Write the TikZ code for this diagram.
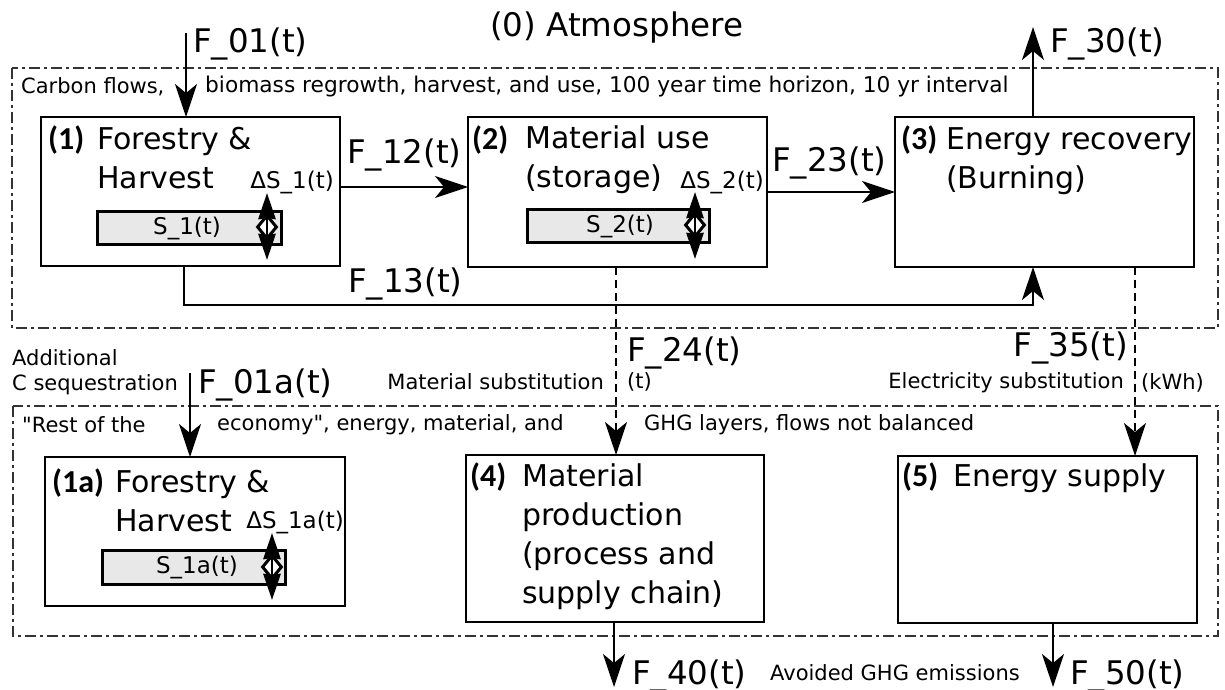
\documentclass[tikz,border=0pt]{standalone}
\usepackage{fontspec}
\setmainfont{DejaVu Sans}
\newfontfamily\qfont{DejaVu Sans}
\newfontfamily\numfont{Carlito}
\usetikzlibrary{arrows.meta,shapes.geometric}
\begin{document}
\begin{tikzpicture}[x=1pt,y=-1pt,
  box/.style={draw, line width=1.8pt, anchor=north west, inner sep=0, outer sep=0},
  frame/.style={draw=black!80, line width=1.3pt, dash pattern=on 11pt off 4pt on 3pt off 4pt},
  flow/.style={line width=1.8pt, -{Stealth[length=33pt,width=22pt,inset=9pt]}},
  dflow/.style={flow, dash pattern=on 8pt off 5pt},
  bigt/.style={font=\fontsize{30}{39}\selectfont, inner sep=0, anchor=base west},
  flt/.style={font=\fontsize{32.5}{39}\selectfont, inner sep=0, anchor=base west},
  smallt/.style={font=\qfont\fontsize{21}{26}\selectfont, inner sep=0},
  midt/.style={font=\fontsize{23}{28}\selectfont, inner sep=0},
  numt/.style={font=\numfont\bfseries\fontsize{32}{38}\selectfont, inner sep=0, anchor=base west},
  stock/.style={draw, line width=3pt, fill=black!9, inner sep=0, outer sep=0, anchor=north west},
  dstock/.style={line width=3.5pt, {Stealth[length=26pt,width=17pt,inset=1pt]}-{Stealth[length=26pt,width=17pt,inset=1pt]}},
  dia/.style={diamond, draw, line width=3pt, fill=white, inner sep=0, minimum width=20pt, minimum height=24pt}
]
\useasboundingbox (0,0) rectangle (1225,690);

% system frames
\draw[frame] (12,68) rectangle (1218,328);
\draw[frame] (13,406) rectangle (1218,636);

% title
\node[flt] (atm) at (490,37) {(0) Atmosphere};

% frame captions
\node[smallt, anchor=west] (cap1a) at (21,87) {Carbon flows,};
\node[smallt, anchor=west, font=\qfont\fontsize{21.7}{26}\selectfont] (cap1b) at (205,87) {biomass regrowth, harvest, and use, 100 year time horizon, 10 yr interval};
\node[smallt, anchor=west] (cap2a) at (22,425) {"Rest of the};
\node[smallt, anchor=west] (cap2b) at (217,425) {economy", energy, material, and};
\node[smallt, anchor=west] (cap2c) at (644,425) {GHG layers, flows not balanced};

% boxes
\node[box, minimum width=299pt, minimum height=149pt] (b1) at (41,117) {};
\node[box, minimum width=299pt, minimum height=150pt] (b2) at (468,117) {};
\node[box, minimum width=299pt, minimum height=150pt] (b3) at (895,117) {};
\node[box, minimum width=300pt, minimum height=149pt] (b1a) at (45,457) {};
\node[box, minimum width=298pt, minimum height=167pt] (b4) at (466,455) {};
\node[box, minimum width=299pt, minimum height=167pt] (b5) at (898,456) {};

% box 1
\node[numt] (n1) at (48,149) {(1)};
\node[bigt] (t1a) at (97,149) {Forestry \&};
\node[bigt] (t1b) at (97,188) {Harvest};
\node[midt, anchor=base east] (d1) at (334,188) {ΔS\_1(t)};
\node[stock, minimum width=184pt, minimum height=33pt] (s1) at (97,211) {};
\node[midt] (s1t) at (187,228) {S\_1(t)};
\coordinate (s1u) at (267,193);
\coordinate (s1d) at (267,260);
\draw[dstock] (s1u) -- (s1d);
\node[dia] (s1dia) at (267,227) {};
\draw[line width=2.5pt] (s1dia.north) -- (s1dia.south);

% box 2
\node[numt] (n2) at (472,149) {(2)};
\node[bigt] (t2a) at (525,148) {Material use};
\node[bigt] (t2b) at (525,187) {(storage)};
\node[midt, anchor=base east] (d2) at (764,188) {ΔS\_2(t)};
\node[stock, minimum width=182pt, minimum height=33pt] (s2) at (527,209) {};
\node[midt] (s2t) at (620,226) {S\_2(t)};
\coordinate (s2u) at (695,192);
\coordinate (s2d) at (695,259);
\draw[dstock] (s2u) -- (s2d);
\node[dia] (s2dia) at (695,225) {};
\draw[line width=2.5pt] (s2dia.north) -- (s2dia.south);

% box 3
\node[numt] (n3) at (901,149) {(3)};
\node[bigt] (t3a) at (946,149) {Energy recovery};
\node[bigt] (t3b) at (946,188) {(Burning)};

% box 1a
\node[numt] (n1a) at (52,492) {(1a)};
\node[bigt] (t1aa) at (115,492) {Forestry \&};
\node[bigt] (t1ab) at (115,531) {Harvest};
\node[midt, anchor=base east] (d1a) at (344,528) {ΔS\_1a(t)};
\node[stock, minimum width=183pt, minimum height=34pt] (s1a) at (102,550) {};
\node[midt] (s1at) at (197,567) {S\_1a(t)};
\coordinate (s1au) at (272,533);
\coordinate (s1ad) at (272,600);
\draw[dstock] (s1au) -- (s1ad);
\node[dia] (s1adia) at (272,567) {};
\draw[line width=2.5pt] (s1adia.north) -- (s1adia.south);

% box 4
\node[numt] (n4) at (470,486) {(4)};
\node[bigt] (t4a) at (522,486) {Material};
\node[bigt] (t4b) at (522,525) {production};
\node[bigt] (t4c) at (522,564) {(process and};
\node[bigt] (t4d) at (522,603) {supply chain)};

% box 5
\node[numt] (n5) at (902,486) {(5)};
\node[bigt] (t5a) at (953,486) {Energy supply};

% flows
\coordinate (f01s) at (186,33);
\draw[flow] (f01s) -- (f01s |- b1.north);
\node[flt] (l01) at (193,53) {F\_01(t)};

\coordinate (y12) at (0,187);
\draw[flow] (b1.east |- y12) -- (b2.west |- y12);
\node[flt] (l12) at (347,163) {F\_12(t)};

\coordinate (p13s) at (184,266);
\coordinate (p13e) at (1033,267);
\draw[flow] (p13s) -- ++(0,39) -| (p13e);
\node[flt] (l13) at (348,292) {F\_13(t)};

\coordinate (y23) at (0,192);
\draw[flow] (b2.east |- y23) -- (b3.west |- y23);
\node[flt] (l23) at (772,171) {F\_23(t)};

\coordinate (f30e) at (1033,27);
\draw[flow] (f30e |- b3.north) -- (f30e);
\node[flt] (l30) at (1050,53) {F\_30(t)};

\coordinate (f24s) at (616,267);
\draw[dflow] (f24s) -- (f24s |- b4.north);
\node[flt] (l24) at (627,361) {F\_24(t)};
\node[smallt, anchor=west] (u24) at (627,382) {(t)};
\node[smallt, anchor=east] (m24) at (604,382) {Material substitution};

\coordinate (f35s) at (1135,267);
\draw[dflow] (f35s) -- (f35s |- b5.north);
\node[flt, anchor=base east] (l35) at (1128,356) {F\_35(t)};
\node[smallt, anchor=west] (u35) at (1141,383) {(kWh)};
\node[smallt, anchor=east] (m35) at (1124,383) {Electricity substitution};

\coordinate (f01as) at (190,373);
\draw[flow] (f01as) -- (f01as |- b1a.north);
\node[flt] (l01a) at (198,393) {F\_01a(t)};
\node[smallt, anchor=west] (add1) at (12,358) {Additional};
\node[smallt, anchor=west] (add2) at (12,385) {C sequestration};

\coordinate (f40e) at (614,687);
\draw[flow] (f40e |- b4.south) -- (f40e);
\node[flt] (l40) at (632,684) {F\_40(t)};
\node[smallt, anchor=west] (avo) at (770,673) {Avoided GHG emissions};

\coordinate (f50e) at (1053,687);
\draw[flow] (f50e |- b5.south) -- (f50e);
\node[flt] (l50) at (1070,684) {F\_50(t)};
\end{tikzpicture}
\end{document}
